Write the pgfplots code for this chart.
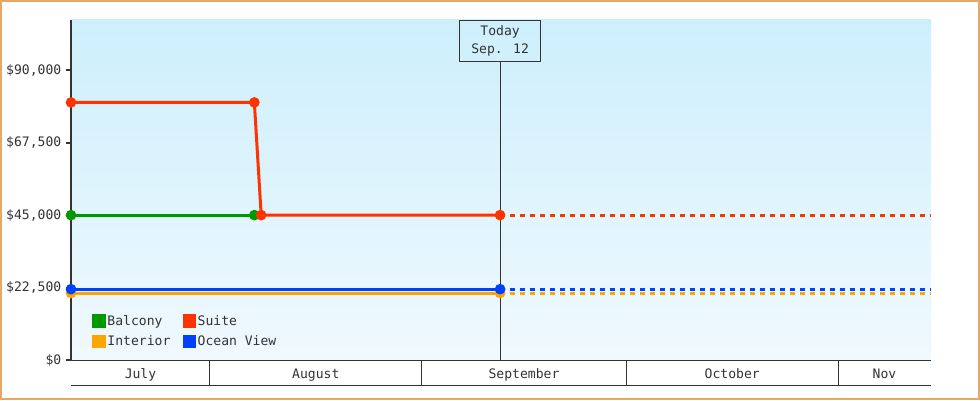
\documentclass[border=0pt]{standalone}
\usepackage{pgfplots}
\pgfplotsset{compat=1.18}
\usepackage{fontspec}
\setmainfont{DejaVu Sans Mono}
\definecolor{balcony}{HTML}{009900}
\definecolor{suite}{HTML}{FF3300}
\definecolor{interior}{HTML}{FFA500}
\definecolor{ocean}{HTML}{0040FF}
\definecolor{bgtop}{HTML}{CDEFFC}
\definecolor{bgbot}{HTML}{F0F9FE}
\definecolor{framec}{HTML}{E8A865}
\definecolor{ink}{HTML}{333333}
\begin{document}
\begin{tikzpicture}[font=\fontsize{9.8}{13.5}\selectfont]
\useasboundingbox (-53.25pt,-30pt) rectangle (681.75pt,270pt);
\begin{axis}[name=main, at={(0,0)}, anchor=south west,
    scale only axis, width=645pt, height=255pt,
    xmin=-20.36, xmax=105.62, ymin=0, ymax=105600,
    clip=false, scaled y ticks=false,
    axis background/.style={top color=bgtop, bottom color=bgbot},
    axis x line*=bottom, axis y line*=left,
    x axis line style={-, ink, line width=0.75pt},
    y axis line style={-, ink, line width=1.5pt},
    tick align=outside, major tick length=3.75pt,
    ytick={0,22500,45000,67500,90000},
    yticklabels={{\$0},{\$22,500},{\$45,000},{\$67,500},{\$90,000}},
    ytick style={ink, line width=1.5pt},
    yticklabel style={text=ink},
    xtick={-10.18,15.5,46,76.5,98.8},
    xticklabels={July,August,September,October,Nov},
    xtick style={/pgfplots/major tick length=0pt},
    xticklabel style={anchor=base, yshift=-10.2pt, text=ink},
    legend columns=2,
    legend cell align=left,
    legend style={at={(axis description cs:0.02,0.023)}, anchor=south west,
        draw=none, fill=none, text=ink, row sep=4pt,
        nodes={inner sep=1.2pt},
        /tikz/every even column/.append style={column sep=8pt}},
    legend image code/.code={\fill[#1] (0pt,-3.9pt) rectangle (7.8pt,3.9pt);},
]
% solid history up to today
\addplot[balcony, line width=2.25pt, mark=*, mark size=2.8pt] coordinates {(-20.36,45000) (6.5,45000)};
\addlegendentry{Balcony}
\addplot[suite, line width=2.25pt, mark=*, mark size=2.8pt] coordinates {(-20.36,80000) (6.5,80000) (7.5,45000) (42.5,45000)};
\addlegendentry{Suite}
\addplot[interior, line width=2.25pt, mark=*, mark size=2.8pt] coordinates {(-20.36,20800) (42.5,20800)};
\addlegendentry{Interior}
\addplot[ocean, line width=2.25pt, mark=*, mark size=2.8pt] coordinates {(-20.36,22000) (42.5,22000)};
\addlegendentry{Ocean View}
% projection after today
\addplot[suite, line width=2.25pt, dash pattern=on 3.75pt off 3.75pt, forget plot] coordinates {(42.5,45000) (105.62,45000)};
\addplot[interior, line width=2.25pt, dash pattern=on 3.75pt off 3.75pt, forget plot] coordinates {(42.5,20800) (105.62,20800)};
\addplot[ocean, line width=2.25pt, dash pattern=on 3.75pt off 3.75pt, forget plot] coordinates {(42.5,22000) (105.62,22000)};
\node[draw=ink, line width=0.75pt, align=center, anchor=north, text=ink,
      minimum width=60.75pt, minimum height=30.75pt, inner sep=0pt] (today)
      at (axis cs:42.5,105600) {Today\\Sep. 12};
\draw[ink, line width=0.75pt] (axis cs:42.5,0) -- (today.south);
% month separators in the date band (Aug 1, Sep 1, Oct 1, Nov 1)
\pgfplotsinvokeforeach{0,31,61,92}{
  \draw[ink, line width=0.75pt] (axis cs:#1,0) -- ++(0pt,-18.75pt);
}
\end{axis}
\draw[ink, line width=0.75pt] ([yshift=-18.75pt]main.south west) -- ([yshift=-18.75pt]main.south east);
\draw[framec, line width=1.2pt] (-52.65pt,-29.4pt) rectangle (681.15pt,269.4pt);
\end{tikzpicture}
\end{document}
